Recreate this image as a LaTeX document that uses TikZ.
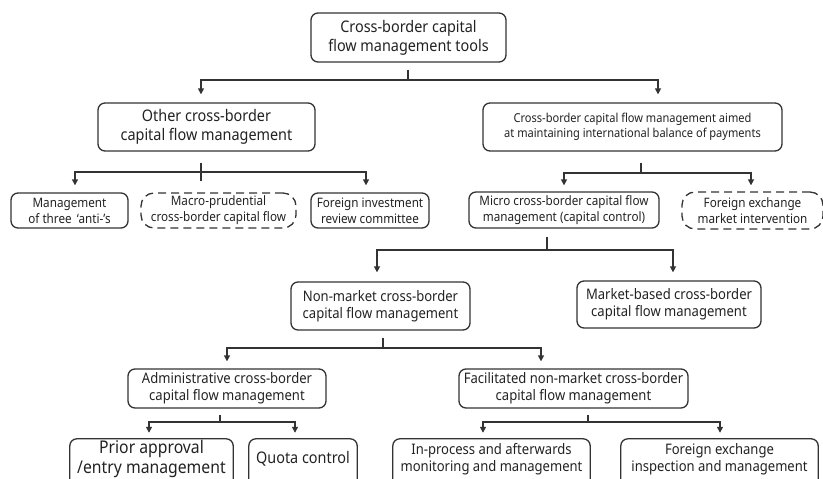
\documentclass[tikz,border=0pt]{standalone}
\usepackage{fontspec}
\setmainfont{Noto Sans}[FakeStretch=0.9]
\usetikzlibrary{arrows.meta}
\definecolor{ink}{HTML}{333333}
\definecolor{txt}{HTML}{222222}
\newcommand{\fs}[2]{\fontsize{#1}{#2}\selectfont}
\begin{document}
\begin{tikzpicture}[x=1pt,y=-1pt,
  frame/.style={draw=ink, line width=1.3pt, rounded corners=7pt},
  box/.style={frame, inner sep=0pt, align=center, text=txt},
  dbox/.style={box, dash pattern=on 8pt off 5pt, rounded corners=13pt},
  lowbox/.style={inner sep=0pt, align=center, text=txt},
  wire/.style={draw=ink, line width=1.4pt},
  arr/.style={wire, -{Triangle[width=6pt,length=6pt]}}]
\useasboundingbox (0,0) rectangle (823,479);
\clip (0,0) rectangle (823,479);

% level 1
\node[box, minimum width=195, minimum height=49, font=\fs{16}{19}] (top) at (408.5,37.5)
  {Cross-border capital\\flow management tools};

% level 2
\node[box, minimum width=217, minimum height=48, font=\fs{16}{19}] (other) at (206.5,127)
  {Other cross-border\\capital flow management};
\node[box, minimum width=299, minimum height=48, font=\fs{12.3}{15}] (bop) at (632.5,127)
  {Cross-border capital flow management aimed\\at maintaining international balance of payments};

% level 3
\node[box, minimum width=117, minimum height=35, font=\fs{13}{16}] (anti) at (69.5,210.5)
  {Management\\of three \,‘anti-’s};
\node[dbox, minimum width=155, minimum height=35, font=\fs{13}{16}] (macro) at (218.5,210.5)
  {Macro-prudential\\cross-border capital flow};
\node[box, minimum width=118, minimum height=35, font=\fs{13}{16}] (review) at (370,210.5)
  {Foreign investment\\review committee};
\node[box, minimum width=190, minimum height=36, font=\fs{13}{16}] (micro) at (564,210)
  {Micro cross-border capital flow\\management (capital control)};
\node[dbox, minimum width=141, minimum height=37, font=\fs{13}{16}] (fxint) at (752.5,210.5)
  {Foreign exchange\\market intervention};

% level 4
\node[box, minimum width=179, minimum height=48, font=\fs{14.5}{17}] (nonmkt) at (380.5,306)
  {Non-market cross-border\\capital flow management};
\node[box, minimum width=184, minimum height=47, font=\fs{14.5}{17}] (mkt) at (669,304.5)
  {Market-based cross-border\\capital flow management};

% level 5
\node[box, minimum width=198, minimum height=39, font=\fs{14.5}{17}] (admin) at (227,388.5)
  {Administrative cross-border\\capital flow management};
\node[box, minimum width=229, minimum height=39, font=\fs{14.5}{17}] (facil) at (573.5,388.5)
  {Facilitated non-market cross-border\\capital flow management};

% level 6: frames run on past the lower edge
\node[lowbox, minimum width=163, minimum height=40, font=\fs{17.5}{20}] (prior) at (151.5,459)
  {Prior approval\\/entry management};
\node[lowbox, minimum width=108, minimum height=40, font=\fs{16}{19}] (quota) at (303,459)
  {Quota control};
\node[lowbox, minimum width=197, minimum height=40, font=\fs{14.5}{17}] (inproc) at (491.5,459)
  {In-process and afterwards\\monitoring and management};
\node[lowbox, minimum width=197, minimum height=40, font=\fs{14.5}{17}] (insp) at (719.5,459)
  {Foreign exchange\\inspection and management};
\foreach \n in {prior,quota,inproc,insp}
  \draw[frame] (\n.north west) rectangle ([yshift=-10pt]\n.south east);

% bus junctions
\coordinate (j1) at (408,80);
\coordinate (j2) at (201,172);
\coordinate (j3) at (641,173);
\coordinate (j4) at (547,250);
\coordinate (j5) at (383,348);
\coordinate (j6) at (220,422);
\coordinate (j7) at (588,422);

% top -> level 2
\draw[wire] ([xshift=-0.5pt,yshift=-7pt]top.south) -- (j1);
\draw[arr] (j1) -| ([xshift=-5.5pt,yshift=8pt]other.north);
\draw[arr] (j1) -| ([xshift=25.5pt,yshift=8pt]bop.north);

% other -> level 3
\draw[wire] ([xshift=-5.5pt,yshift=-11pt]other.south) -- ([xshift=-17.5pt,yshift=11pt]macro.north);
\draw[arr] (j2) -| ([xshift=5.5pt,yshift=7pt]anti.north);
\draw[arr] (j2) -| ([xshift=-4pt,yshift=7pt]review.north);

% balance of payments -> level 3
\draw[wire] ([xshift=8.5pt,yshift=-11pt]bop.south) -- (j3);
\draw[arr] (j3) -| ([yshift=6pt]micro.north);
\draw[arr] (j3) -| ([xshift=-1.5pt,yshift=6pt]fxint.north);

% micro -> level 4
\draw[wire] ([xshift=-17pt,yshift=-8pt]micro.south) -- (j4);
\draw[arr] (j4) -| ([xshift=-3.5pt,yshift=9pt]nonmkt.north);
\draw[arr] (j4) -| ([xshift=4pt,yshift=8pt]mkt.north);

% non-market -> level 5
\draw[wire] ([xshift=2.5pt,yshift=-7pt]nonmkt.south) -- (j5);
\draw[arr] (j5) -| ([yshift=7pt]admin.north);
\draw[arr] (j5) -| ([xshift=-32.5pt,yshift=7pt]facil.north);

% administrative -> level 6
\draw[wire] ([xshift=-7pt,yshift=-6pt]admin.south) -- (j6);
\draw[arr] (j6) -| ([xshift=-2.5pt,yshift=6pt]prior.north);
\draw[arr] (j6) -| ([xshift=-8pt,yshift=6pt]quota.north);

% facilitated -> level 6
\draw[wire] ([xshift=14.5pt,yshift=-6pt]facil.south) -- (j7);
\draw[arr] (j7) -| ([xshift=-8.5pt,yshift=6pt]inproc.north);
\draw[arr] (j7) -| ([xshift=0.5pt,yshift=6pt]insp.north);
\end{tikzpicture}
\end{document}
